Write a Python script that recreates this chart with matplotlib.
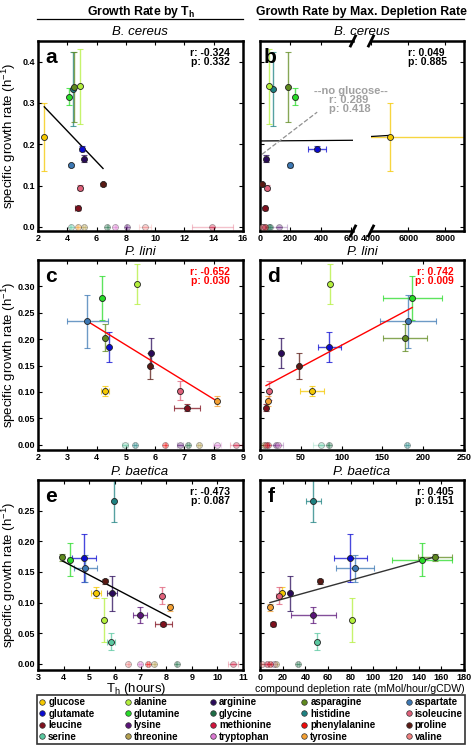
import numpy as np
import matplotlib
matplotlib.use('Agg')
import matplotlib.pyplot as plt
from matplotlib.lines import Line2D

plt.rcParams['font.family'] = ['Liberation Sans', 'DejaVu Sans']
plt.rcParams['mathtext.fontset'] = 'custom'
plt.rcParams['mathtext.rm'] = 'Liberation Sans'
plt.rcParams['mathtext.it'] = 'Liberation Sans:italic'
plt.rcParams['mathtext.bf'] = 'Liberation Sans:bold'

W, H = 472, 746

# legend order, row by row
compounds = ['glucose', 'alanine', 'arginine', 'asparagine', 'aspartate',
             'glutamate', 'glutamine', 'glycine', 'histidine', 'isoleucine',
             'leucine', 'lysine', 'methionine', 'phenylalanine', 'proline',
             'serine', 'threonine', 'tryptophan', 'tyrosine', 'valine']
colors = ['#f5c800', '#b4f03c', '#2a0a5a', '#5f8a1e', '#3c78b4',
          '#0a0ad2', '#28dc28', '#1e6e46', '#1e8282', '#e0607a',
          '#80101e', '#5a1478', '#d2143c', '#f00a0a', '#5a1a14',
          '#5ac8a0', '#b4a050', '#dc78d2', '#f5a032', '#f08080']
color_of = dict(zip(compounds, colors))

# ---- B. cereus ----
bc_names = ['glucose', 'glutamine', 'histidine', 'asparagine', 'alanine', 'glutamate',
            'arginine', 'aspartate', 'isoleucine', 'proline', 'leucine']
bc_rate = [0.218, 0.315, 0.333, 0.338, 0.340, 0.189, 0.165, 0.149, 0.095, 0.103, 0.045]
bc_rate_err = [0.083, 0.020, 0.090, 0.085, 0.090, 0.006, 0.008, 0.004, 0.006, 0.004, 0.004]
bc_th = [2.43, 4.14, 4.40, 4.45, 4.89, 5.03, 5.16, 4.25, 4.90, 6.44, 4.71]
bc_th_err = [0.05, 0.05, 0.05, 0.05, 0.05, 0.08, 0.10, 0.05, 0.08, 0.05, 0.15]
bc_dep = [5030, 232, 83, 182, 61, 375, 39, 197, 46, 13, 35]
bc_dep_err = [4000, 10, 5, 5, 5, 57, 12, 15, 8, 5, 8]
bc0_names = ['serine', 'tyrosine', 'threonine', 'glycine', 'tryptophan', 'lysine', 'valine', 'methionine']
bc0_th = [4.23, 4.71, 5.14, 6.73, 7.28, 8.06, 9.33, 13.9]
bc0_th_err = [0.05, 0.05, 0.05, 0.05, 0.05, 0.05, 0.4, 1.4]
bc0_dep = [66, 30, 13, 61, 20, 123, 13, 35]
bc0_dep_err = [5, 5, 5, 5, 5, 55, 5, 5]

# ---- P. lini ----
pl_names = ['aspartate', 'glutamine', 'alanine', 'asparagine', 'glutamate', 'arginine',
            'proline', 'glucose', 'isoleucine', 'tyrosine', 'leucine']
pl_rate = [0.234, 0.278, 0.305, 0.203, 0.185, 0.174, 0.149, 0.102, 0.102, 0.083, 0.070]
pl_rate_err = [0.050, 0.042, 0.038, 0.025, 0.029, 0.029, 0.024, 0.010, 0.018, 0.010, 0.007]
pl_th = [3.69, 4.18, 5.39, 4.30, 4.43, 5.87, 5.83, 4.29, 6.84, 8.10, 7.09]
pl_th_err = [0.69, 0.03, 0.03, 0.03, 0.03, 0.03, 0.03, 0.15, 0.05, 0.05, 0.45]
pl_dep = [181.6, 186.5, 86, 178, 85, 26, 48, 64, 10.6, 9.4, 7.4]
pl_dep_err = [34, 36, 1, 27, 14, 1, 1, 15, 1, 1, 1]
pl0_names = ['serine', 'histidine', 'phenylalanine', 'lysine', 'glycine', 'threonine', 'tryptophan', 'methionine']
pl0_th = [4.97, 5.31, 6.35, 6.85, 7.12, 7.50, 8.11, 8.77]
pl0_th_err = [0.10, 0.03, 0.03, 0.10, 0.03, 0.03, 0.15, 0.20]
pl0_dep = [75, 180, 9.4, 19.6, 84, 4.5, 21.7, 7]
pl0_dep_err = [10, 1, 1, 8, 1, 1, 3, 1]

# ---- P. baetica ----
pb_names = ['histidine', 'asparagine', 'glutamine', 'glutamate', 'aspartate', 'proline', 'glucose',
            'arginine', 'isoleucine', 'tyrosine', 'lysine', 'leucine', 'alanine', 'serine']
pb_rate = [0.266, 0.174, 0.170, 0.1725, 0.156, 0.135, 0.116, 0.115, 0.111, 0.092, 0.080, 0.065, 0.071, 0.0365]
pb_rate_err = [0.035, 0.006, 0.027, 0.039, 0.022, 0.004, 0.009, 0.029, 0.014, 0.005, 0.013, 0.003, 0.036, 0.014]
pb_th = [5.97, 3.95, 4.23, 4.80, 4.85, 5.62, 5.27, 5.88, 7.84, 8.17, 6.98, 7.89, 5.58, 5.85]
pb_th_err = [0.03, 0.08, 0.05, 0.47, 0.44, 0.05, 0.20, 0.20, 0.03, 0.05, 0.26, 0.34, 0.03, 0.15]
pb_dep = [47.1, 154.6, 143.1, 79.8, 83.9, 53, 19.2, 26.5, 16.5, 8.8, 47.1, 11.8, 81, 50.7]
pb_dep_err = [6.6, 15, 26.5, 14.7, 16.5, 1, 1, 1, 2, 1, 19.9, 1, 1, 1]
pb0_names = ['valine', 'tryptophan', 'phenylalanine', 'threonine', 'glycine', 'methionine']
pb0_th = [6.53, 6.98, 7.30, 7.54, 8.41, 10.6]
pb0_th_err = [0.03, 0.03, 0.03, 0.03, 0.03, 0.20]
pb0_dep = [1.8, 12, 9.1, 14.1, 33.3, 5.9]
pb0_dep_err = [1, 1, 1, 1, 1, 1]

# fitted lines (slope, intercept) and stats
fit_a = (-0.0372, 0.381)
fit_b = (2.7e-6, 0.208)
fit_b_noglc = (2.82e-4, 0.172)
fit_c = (-0.0342, 0.360)
fit_d = (8.26e-4, 0.1059)
fit_e = (-0.0219, 0.2545)
fit_f = (5.12e-4, 0.0955)
stats = {'a': ('-0.324', '0.332'), 'b': ('0.049', '0.885'), 'c': ('-0.652', '0.030'),
         'd': ('0.742', '0.009'), 'e': ('-0.473', '0.087'), 'f': ('0.405', '0.151')}


def fx(px):
    return px / W


def fy(py):
    return 1 - py / H


def make_ax(l, r, t, b):
    return fig.add_axes([fx(l), fy(b), (r - l) / W, (b - t) / H])


def style(ax):
    ax.tick_params(direction='in', top=True, right=True, length=3, width=0.8,
                   labelsize=6.5, pad=2)
    for lab in ax.get_xticklabels() + ax.get_yticklabels():
        lab.set_fontweight('bold')
    for s in ax.spines.values():
        s.set_linewidth(1.8)


def draw_points(ax, xs, xerrs, ys, yerrs, names, faded=False):
    a = 0.35 if faded else 1.0
    for x, xe, y, ye, n in zip(xs, xerrs, ys, yerrs, names):
        c = color_of[n]
        ax.errorbar(x, y, xerr=xe, yerr=ye, fmt='none', ecolor=c, elinewidth=1.0,
                    capsize=2, capthick=0.8, alpha=0.75 * a, zorder=2)
        ax.plot(x, y, 'o', ms=4.3, mfc=c, mec='#222222', mew=0.6, alpha=a, zorder=3)


def draw_fit(ax, fit, xs, color, ls='-', lw=1.0):
    xx = np.array([min(xs), max(xs)])
    ax.plot(xx, fit[0] * xx + fit[1], color=color, ls=ls, lw=lw, zorder=2.5)


def stat_text(ax, key, x=0.935, color='black'):
    r, p = stats[key]
    ax.text(x, 0.965, 'r: %s\np: %s' % (r, p), transform=ax.transAxes, ha='right',
            va='top', fontsize=7.5, fontweight='bold', color=color, linespacing=0.95)


def letter(ax, s):
    ax.text(0.035, 0.965, s, transform=ax.transAxes, ha='left', va='top',
            fontsize=15, fontweight='bold')


fig = plt.figure(figsize=(W / 100, H / 100), dpi=100)

# headers
fig.text(fx(141), fy(12), r'Growth Rate by T$_\mathbf{h}$', ha='center', va='center',
         fontsize=8.8, fontweight='bold')
fig.text(fx(361), fy(12), 'Growth Rate by Max. Depletion Rate', ha='center', va='center',
         fontsize=8.8, fontweight='bold')
fig.add_artist(Line2D([fx(37), fx(243)], [fy(19), fy(19)], color='k', lw=0.9))
fig.add_artist(Line2D([fx(259), fx(464)], [fy(19), fy(19)], color='k', lw=0.9))

for yy, name in [(32, 'B. cereus'), (252, 'P. lini'), (472, 'P. baetica')]:
    fig.text(fx(140), fy(yy), name, ha='center', va='center', fontsize=9.5, style='italic')
    fig.text(fx(362), fy(yy), name, ha='center', va='center', fontsize=9.5, style='italic')

rows = [(41, 231), (260, 450), (480, 670)]

# ---- panel a ----
ax = make_ax(38, 243, *rows[0])
draw_points(ax, bc_th, bc_th_err, bc_rate, bc_rate_err, bc_names)
draw_points(ax, bc0_th, bc0_th_err, [0] * len(bc0_th), [0] * len(bc0_th), bc0_names, faded=True)
draw_fit(ax, fit_a, [bc_th[0], bc_th[9]], 'black')
ax.set_xlim(2, 16)
ax.set_ylim(-0.01, 0.45)
ax.set_xticks(np.arange(2, 17, 2))
ax.set_yticks([0, 0.1, 0.2, 0.3, 0.4])
ax.set_yticklabels(['0.0', '0.1', '0.2', '0.3', '0.4'])
style(ax)
letter(ax, 'a')
stat_text(ax, 'a')

# ---- panel b (broken x axis) ----
axl = make_ax(260, 353, *rows[0])
axr = make_ax(371, 464, *rows[0])
for axb in (axl, axr):
    draw_points(axb, bc_dep, bc_dep_err, bc_rate, bc_rate_err, bc_names)
    draw_points(axb, bc0_dep, bc0_dep_err, [0] * len(bc0_dep), [0] * len(bc0_dep), bc0_names, faded=True)
    draw_fit(axb, fit_b, [0, bc_dep[0]], 'black', lw=0.9)
    axb.set_ylim(-0.01, 0.45)
    axb.set_yticks([0, 0.1, 0.2, 0.3, 0.4])
    style(axb)
    axb.tick_params(labelleft=False)
draw_fit(axl, fit_b_noglc, bc_dep[1:], '#909090', ls='--', lw=0.9)
axl.set_xlim(0, 610)
axl.set_xticks([0, 200, 400, 600])
axr.set_xlim(4000, 9000)
axr.set_xticks([4000, 6000, 8000])
axl.spines['right'].set_visible(False)
axr.spines['left'].set_visible(False)
axl.tick_params(right=False)
axr.tick_params(left=False)
for axb in (axl, axr):
    for lab in axb.get_xticklabels():
        lab.set_fontweight('bold')
letter(axl, 'b')
axr.text(0.40, 0.965, 'r: %s\np: %s' % stats['b'], transform=axr.transAxes, ha='left',
         va='top', fontsize=7.5, fontweight='bold', linespacing=0.95)
fig.text(fx(351), fy(91), '--no glucose--', ha='center', va='center', fontsize=8,
         fontweight='bold', color='#a0a0a0')
fig.text(fx(329), fy(100), 'r: 0.289', ha='left', va='center', fontsize=8,
         fontweight='bold', color='#a0a0a0')
fig.text(fx(329), fy(109), 'p: 0.418', ha='left', va='center', fontsize=8,
         fontweight='bold', color='#a0a0a0')
for xb in (353, 371):
    for yb in (41, 231):
        fig.add_artist(Line2D([fx(xb - 2.5), fx(xb + 2.5)], [fy(yb + 5), fy(yb - 5)],
                              color='k', lw=2.0))

# ---- panel c ----
ax = make_ax(38, 243, *rows[1])
draw_points(ax, pl_th, pl_th_err, pl_rate, pl_rate_err, pl_names)
draw_points(ax, pl0_th, pl0_th_err, [0] * len(pl0_th), [0] * len(pl0_th), pl0_names, faded=True)
draw_fit(ax, fit_c, [pl_th[0], pl_th[9]], '#ff0000')
ax.set_xlim(2, 9)
ax.set_ylim(-0.01, 0.35)
ax.set_xticks(range(2, 10))
ax.set_yticks(np.arange(0, 0.31, 0.05))
ax.set_yticklabels(['%.2f' % v for v in np.arange(0, 0.31, 0.05)])
style(ax)
letter(ax, 'c')
stat_text(ax, 'c', color='#ff0000')

# ---- panel d ----
ax = make_ax(260, 464, *rows[1])
draw_points(ax, pl_dep, pl_dep_err, pl_rate, pl_rate_err, pl_names)
draw_points(ax, pl0_dep, pl0_dep_err, [0] * len(pl0_dep), [0] * len(pl0_dep), pl0_names, faded=True)
draw_fit(ax, fit_d, [pl_dep[-1], pl_dep[1]], '#ff0000')
ax.set_xlim(0, 250)
ax.set_ylim(-0.01, 0.35)
ax.set_xticks(range(0, 251, 50))
ax.set_yticks(np.arange(0, 0.31, 0.05))
style(ax)
ax.tick_params(labelleft=False)
letter(ax, 'd')
stat_text(ax, 'd', x=0.95, color='#ff0000')

# ---- panel e ----
ax = make_ax(38, 243, *rows[2])
draw_points(ax, pb_th, pb_th_err, pb_rate, pb_rate_err, pb_names)
draw_points(ax, pb0_th, pb0_th_err, [0] * len(pb0_th), [0] * len(pb0_th), pb0_names, faded=True)
draw_fit(ax, fit_e, [pb_th[1], pb_th[9]], 'black')
ax.set_xlim(3, 11)
ax.set_ylim(-0.01, 0.30)
ax.set_xticks(range(3, 12))
ax.set_yticks(np.arange(0, 0.26, 0.05))
ax.set_yticklabels(['%.2f' % v for v in np.arange(0, 0.26, 0.05)])
style(ax)
letter(ax, 'e')
stat_text(ax, 'e')

# ---- panel f ----
ax = make_ax(260, 464, *rows[2])
draw_points(ax, pb_dep, pb_dep_err, pb_rate, pb_rate_err, pb_names)
draw_points(ax, pb0_dep, pb0_dep_err, [0] * len(pb0_dep), [0] * len(pb0_dep), pb0_names, faded=True)
draw_fit(ax, fit_f, [pb_dep[9], pb_dep[1]], '#333333')
ax.set_xlim(0, 180)
ax.set_ylim(-0.01, 0.30)
ax.set_xticks(range(0, 181, 20))
ax.set_yticks(np.arange(0, 0.26, 0.05))
style(ax)
ax.tick_params(labelleft=False)
letter(ax, 'f')
stat_text(ax, 'f', x=0.95)

# x labels
fig.text(fx(136), fy(689), r'T$_\mathrm{h}$ (hours)', ha='center', va='center', fontsize=9.5)
fig.text(fx(360), fy(689), 'compound depletion rate (mMol/hour/gCDW)', ha='center',
         va='center', fontsize=7.6)

# y labels
for t, b in rows:
    fig.text(fx(9), fy((t + b) / 2), r'specific growth rate (h$^{\mathrm{-1}}$)', rotation=90,
             ha='center', va='center', fontsize=9.5)

# legend
handles = {n: Line2D([], [], ls='none', marker='o', ms=4, mfc=color_of[n], mec='#333333',
                     mew=0.5, label=n) for n in compounds}
ordered = [handles[compounds[r * 5 + c]] for c in range(5) for r in range(4)]
leg = fig.legend(handles=ordered, ncol=5, loc='lower left',
                 bbox_to_anchor=(fx(37), fy(744), (465 - 37) / W, (744 - 699) / H),
                 mode='expand', prop={'weight': 'bold', 'size': 7},
                 frameon=True, fancybox=False, edgecolor='black', handlelength=0.6,
                 handletextpad=0.3, borderpad=0.25, labelspacing=0.15, columnspacing=0.5,
                 borderaxespad=0)
leg.get_frame().set_linewidth(1.2)

fig.savefig('out.png', dpi=100)
